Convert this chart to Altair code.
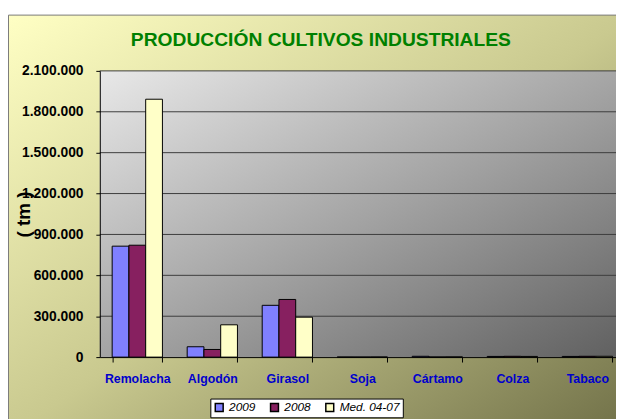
import altair as alt
import pandas as pd

title_text = "PRODUCCIÓN CULTIVOS INDUSTRIALES"
categories = ["Remolacha", "Algodón", "Girasol", "Soja", "Cártamo", "Colza", "Tabaco"]
series = ["2009", "2008", "Med. 04-07"]
v2009 = [814000, 76000, 380000, 500, 6000, 5000, 5000]
v2008 = [821000, 56000, 423000, 300, 800, 6000, 6000]
vmed = [1892000, 237000, 293000, 800, 1500, 5000, 6000]
y_ticks = [0, 300000, 600000, 900000, 1200000, 1500000, 1800000, 2100000]
colors = ["#8080FF", "#872060", "#FFFFC8"]

rows = []
for s, vals in zip(series, [v2009, v2008, vmed]):
    for c, v in zip(categories, vals):
        rows.append({"cat": c, "series": s, "value": v})
df = pd.DataFrame(rows)
grid_df = pd.DataFrame({"value": y_ticks[1:]})
one = pd.DataFrame({"t": [title_text]})

W, H = 523, 290
FONT = "Liberation Sans"

bg = alt.Chart(one).mark_rect(
    fill=alt.Gradient(gradient="linear", x1=0, y1=0, x2=1, y2=1,
                      stops=[alt.GradientStop(offset=0, color="#FFFFC4"),
                             alt.GradientStop(offset=0.5, color="#C9C98F"),
                             alt.GradientStop(offset=1, color="#6E6E46")]),
    stroke="#7A7A7A", strokeWidth=1,
).encode(x=alt.value(-92.5), x2=alt.value(W + 20), y=alt.value(-56.5), y2=alt.value(H + 80))

plotbg = alt.Chart(one).mark_rect(
    fill=alt.Gradient(gradient="linear", x1=0, y1=0, x2=1, y2=1,
                      stops=[alt.GradientStop(offset=0, color="#E8E8E8"),
                             alt.GradientStop(offset=0.5, color="#A4A4A4"),
                             alt.GradientStop(offset=1, color="#5E5E5E")]),
).encode(x=alt.value(0), x2=alt.value(W + 20), y=alt.value(0), y2=alt.value(H))

title_mark = alt.Chart(one).mark_text(
    font=FONT, fontSize=19.5, fontWeight="bold", color="#008000",
    align="center", baseline="alphabetic",
).encode(text="t:N", x=alt.value(224), y=alt.value(-25))

yscale = alt.Scale(domain=[0, 2100000], nice=False, zero=True)
yaxis = alt.Axis(values=y_ticks, format=",d", labelFont=FONT, labelFontSize=14,
                 labelFontWeight="bold", labelColor="black", labelPadding=13,
                 tickSize=4, tickColor="black", domainColor="black",
                 grid=False, zindex=1,
                 titleFont=FONT, titleFontSize=19, titleFontWeight="bold",
                 titleColor="black", titleX=-77, titleY=H / 2,
                 titleAngle=-90, titleAlign="center", titleBaseline="middle")

grid = alt.Chart(grid_df).mark_rule(color="#3C3C3C", strokeWidth=1).encode(
    y=alt.Y("value:Q", scale=yscale, title="( tm )", axis=yaxis),
    x=alt.value(0), x2=alt.value(W + 20),
)

bars = alt.Chart(df).mark_bar(stroke="black", strokeWidth=1).encode(
    x=alt.X("cat:N", sort=categories, title=None,
            scale=alt.Scale(range=[0, 532], paddingInner=0.33, paddingOuter=0.165),
            axis=alt.Axis(labelColor="#0000CC", labelFont=FONT, labelFontSize=12.5,
                          labelFontWeight="bold", labelAngle=0, labelPadding=11,
                          tickBand="extent", tickSize=5, tickColor="black",
                          domainColor="black", domainWidth=1, grid=False, zindex=1)),
    xOffset=alt.XOffset("series:N", sort=series,
                        scale=alt.Scale(paddingInner=0, paddingOuter=0)),
    y=alt.Y("value:Q", scale=yscale, title="( tm )", axis=yaxis),
    color=alt.Color("series:N", sort=series,
                    scale=alt.Scale(domain=series, range=colors),
                    legend=alt.Legend(orient="none", legendX=112, legendY=332,
                                      direction="horizontal", title=None,
                                      fillColor="white", strokeColor="black", padding=3,
                                      symbolType="square", symbolSize=64,
                                      symbolStrokeColor="black", symbolStrokeWidth=1.5,
                                      labelFont=FONT, labelFontSize=12,
                                      labelFontStyle="italic", labelColor="black",
                                      columnPadding=12, labelOffset=4, zindex=1)),
)

chart = alt.layer(bg, plotbg, grid, bars, title_mark).properties(
    width=W, height=H,
    autosize=alt.AutoSizeParams(type="none"),
    padding={"left": 93, "top": 61, "right": 0, "bottom": 60},
).configure(
    locale={"number": {"decimal": ",", "thousands": ".", "grouping": [3],
                       "currency": ["", " €"]}},
    view=alt.ViewConfig(stroke=None),
    font=FONT,
)

chart.save("out.html", embed_options={"renderer": "svg", "actions": False})
